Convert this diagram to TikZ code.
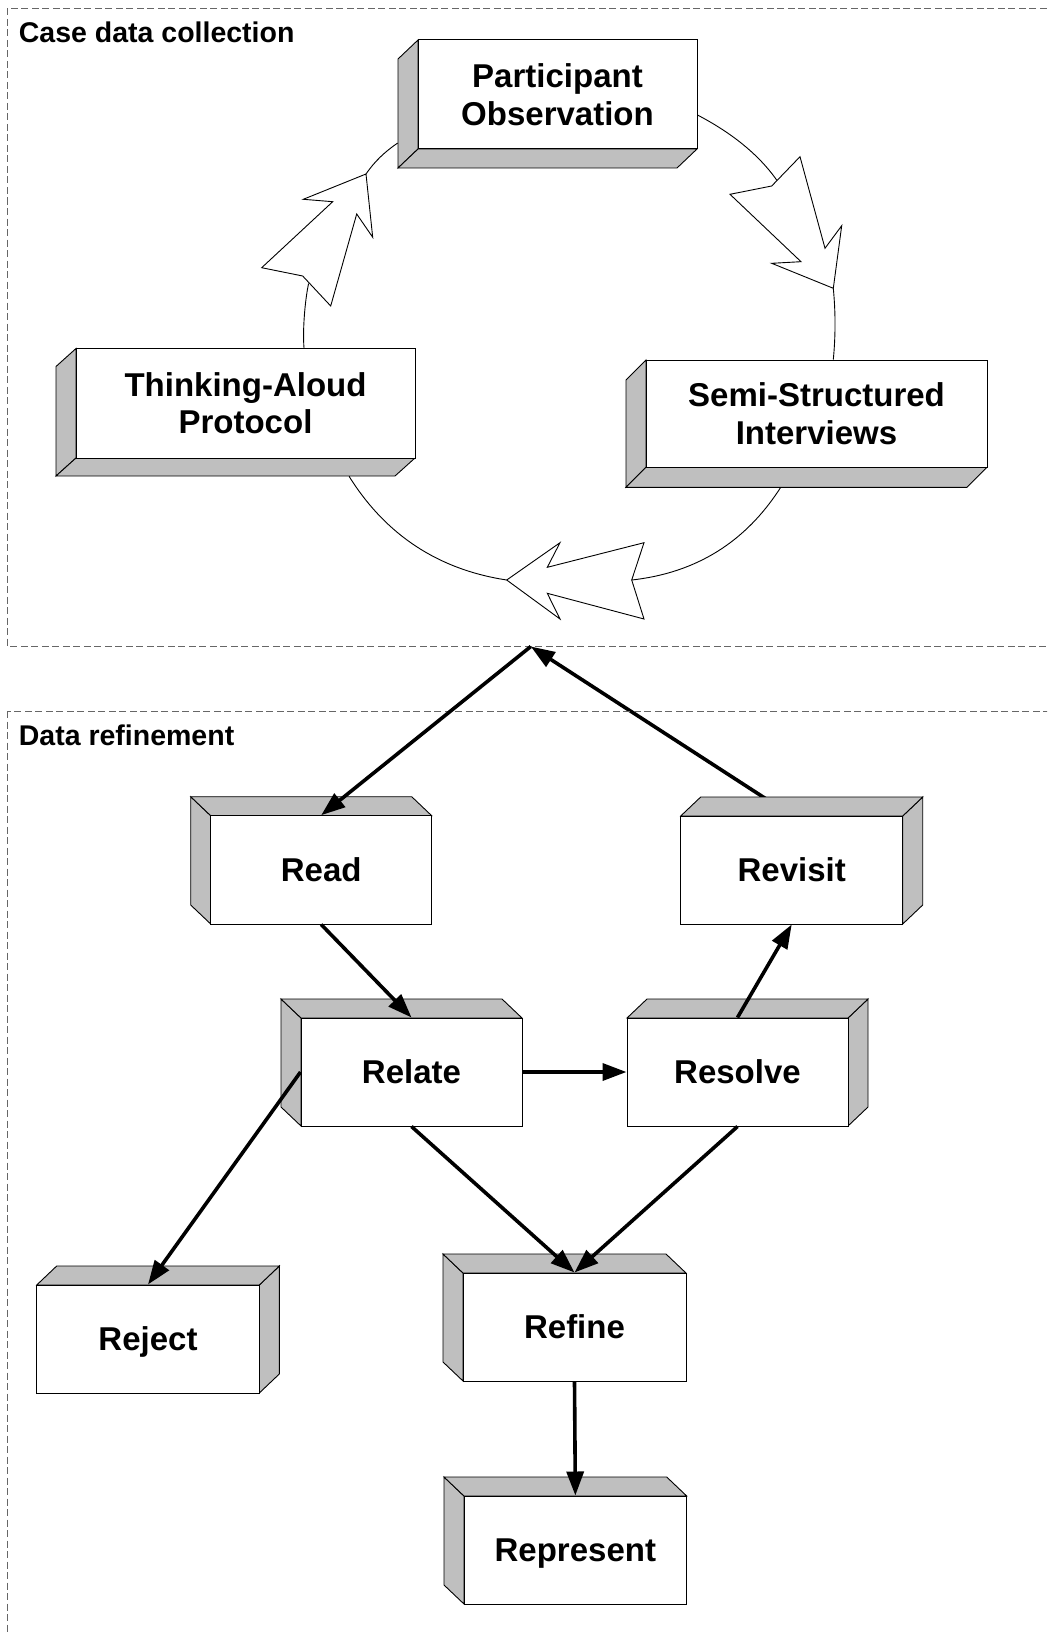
\documentclass[tikz,border=0pt]{standalone}
\usepackage{fontspec}
\setmainfont{Liberation Sans}
\usetikzlibrary{arrows.meta}
\pgfdeclarelayer{background}
\pgfsetlayers{background,main}

% #1 extra node style, #2 name, #3-#6 front face (x1,y1,x2,y2), #7-#8 depth offset, #9 text
\newcommand\blockbox[9]{%
  \pgfmathsetmacro\bbX{(#7)<0 ? (#3) : (#5)}%
  \pgfmathsetmacro\bbY{(#8)<0 ? (#4) : (#6)}%
  \pgfmathsetmacro\bbW{(#5)-(#3)}%
  \pgfmathsetmacro\bbH{(#6)-(#4)}%
  \draw[sideface] (\bbX,#4) -- ++(#7,#8) -- ++(0,\bbH) -- (\bbX,#6) -- cycle;
  \draw[sideface] (#3,\bbY) -- ++(#7,#8) -- ++(\bbW,0) -- (#5,\bbY) -- cycle;
  \node[frontface, minimum width=\bbW pt, minimum height=\bbH pt, #1] (#2)
    at ({((#3)+(#5))/2},{((#4)+(#6))/2}) {#9};
}

\begin{document}
\begin{tikzpicture}[x=1pt,y=-1pt,
  frame/.style={draw=black!60, line width=1pt, dash pattern=on 7pt off 3.5pt},
  sideface/.style={draw=black, fill=black!25, line width=0.9pt, line join=miter},
  frontface/.style={draw=black, fill=white, line width=1pt, inner sep=0pt, align=center,
    font=\fontsize{33}{37.5}\selectfont\bfseries},
  oneline/.style={text height=23.7pt, text depth=0pt},
  title/.style={anchor=base west, inner sep=0pt, font=\fontsize{28.5}{34}\selectfont\bfseries},
  cyc/.style={draw=black, line width=0.9pt},
  hollow/.style={draw=black, fill=white, line width=0.9pt, line join=miter},
  flow/.style={line width=3.6pt, -{Triangle[length=24pt,width=17pt]}}
]
\useasboundingbox (0,0) rectangle (1047,1632);

% dashed section frames
\begin{scope}
  \clip (0,0) rectangle (1047,1632);
  \draw[frame] (7.9,8.5) rectangle (1060,646.5);
  \draw[frame] (7.9,711) rectangle (1060,1650);
\end{scope}
\node[title] (lblcollect) at (18.7,42.5) {Case data collection};
\node[title] (lblrefine) at (18.7,745) {Data refinement};
\coordinate (apex) at (530.8,646.5);

% data collection cycle
\blockbox{}{po}{418}{40}{697}{149}{-20}{19}{Participant\\Observation}
\blockbox{}{tap}{76}{348.5}{415}{458}{-20}{18}{Thinking-Aloud\\Protocol}
\blockbox{}{semi}{646}{360}{987}{467.3}{-20}{20}{Semi-Structured\\Interviews}

% hollow cycle arrows
\coordinate (ra-tn) at (771.7,186);
\coordinate (ra-end) at (777,180.5);
\coordinate (ra-tip) at (833.3,288.3);
\draw[hollow] (ra-tn) -- (730,194.3) -- (801,261.7) -- (771.7,263.3) -- (ra-tip)
  -- (841.7,225.7) -- (825,248.3) -- (800,156.7) -- cycle;
\coordinate (ba-tn) at (631.7,580);
\coordinate (ba-tip) at (506.7,580);
\draw[hollow] (ba-tn) -- (644,542.7) -- (547.3,567.3) -- (560,542.7) -- (ba-tip)
  -- (560,619) -- (547.3,593.3) -- (644,619) -- cycle;
\coordinate (la-tn) at (302.7,276);
\coordinate (la-end) at (308.6,283.5);
\coordinate (la-tip) at (366,174);
\draw[hollow] (la-tn) -- (261.7,267.7) -- (332.7,201.7) -- (303.3,199.3) -- (la-tip)
  -- (372.7,237.3) -- (356.7,214) -- (330.7,306) -- cycle;

% data refinement steps
\blockbox{oneline}{read}{210.7}{815.7}{431.7}{924}{-20}{-19}{Read}
\blockbox{oneline}{revisit}{680.7}{816}{902.7}{924}{20}{-19}{Revisit}
\blockbox{oneline}{relate}{301}{1018}{522}{1126}{-20}{-19}{Relate}
\blockbox{oneline}{resolve}{627}{1018}{848}{1126}{20}{-19}{Resolve}
\blockbox{oneline}{reject}{36.7}{1285}{259.3}{1393}{20}{-19}{Reject}
\blockbox{oneline}{refine}{463}{1273}{686}{1381}{-20}{-19}{Refine}
\blockbox{oneline}{represent}{464}{1496}{686.7}{1604}{-20}{-19}{Represent}

% arcs and hidden connector ends run behind the boxes
\begin{pgfonlayer}{background}
  \draw[cyc] (po.east |- 0,115) .. controls (728,131) and (757,152) .. (ra-end);
  \draw[cyc] (ra-tip) .. controls (835.6,312.2) and (835.6,335.9) .. (semi.north -| 833.3,0);
  \draw[cyc] (semi.south -| 780.7,0) -- (780.7,487.3) .. controls (745.8,542) and (696.2,572.9) .. (ba-tn);
  \draw[cyc] (ba-tip) .. controls (438.5,569.6) and (386,535.2) .. (349.3,476.7) -- (tap.south -| 349.3,0);
  \draw[cyc] (tap.north -| 304,0) .. controls (302.5,330) and (305,300) .. (la-end);
  \draw[cyc] (la-tip) .. controls (374.6,161.3) and (385.7,151.1) .. (397.3,143.3) -- (po.west |- 0,143.3);
  \draw[flow] (revisit.north) -- (apex);
\end{pgfonlayer}

% refinement flow
\draw[flow] (apex) -- (read.north);
\draw[flow] (read.south) -- (relate.north);
\draw[flow] (relate.east) -- (resolve.west);
\draw[flow] (resolve.north) -- (revisit.south);
\draw[flow] (relate.west) -- (reject.north);
\draw[flow] (relate.south) -- (refine.north);
\draw[flow] (resolve.south) -- (refine.north);
\draw[flow] (refine.south) -- (represent.north);
\end{tikzpicture}
\end{document}
